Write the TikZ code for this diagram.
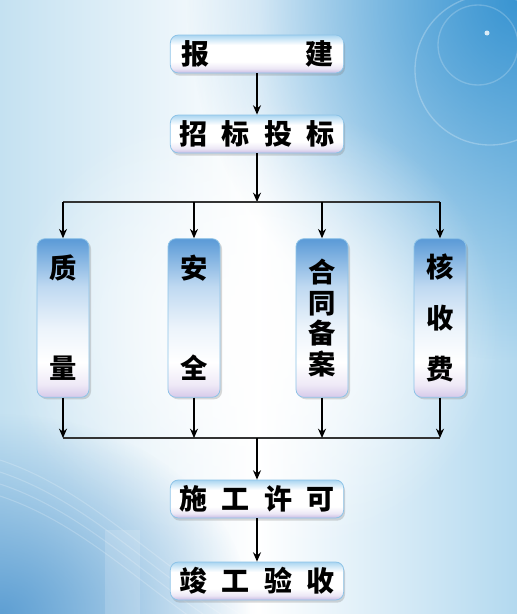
\documentclass[tikz,border=0pt]{standalone}
\usepackage{fontspec}
\newfontfamily\cjk{Noto Sans CJK SC}
\usetikzlibrary{arrows.meta, positioning, shadows, fadings}

\definecolor{bgleft}{HTML}{C4E1F1}
\definecolor{bgright}{HTML}{B3D9EF}
\definecolor{skyblue}{HTML}{3A95D2}
\definecolor{waveblue}{HTML}{5E9FD3}
\definecolor{rimblue}{HTML}{8DC3E7}
\definecolor{hbtop}{HTML}{A9D5F1}
\definecolor{hbbot}{HTML}{C9BBE3}
\definecolor{vbtop}{HTML}{5A9AD7}
\definecolor{vbmid}{HTML}{BFD9F1}
\definecolor{vbbot}{HTML}{D6C9EA}
\definecolor{busgray}{HTML}{333333}

\tikzfading[name=glow, inner color=transparent!0, outer color=transparent!100]

% box fills, path spans 25bp..75bp
\pgfdeclareverticalshading{stageshade}{100bp}{color(0bp)=(hbbot); color(25bp)=(hbbot); color(31bp)=(hbbot!35!white); color(40bp)=(white); color(62bp)=(white); color(70bp)=(hbtop!60!white); color(75bp)=(hbtop); color(100bp)=(hbtop)}
\pgfdeclareverticalshading{itemshade}{100bp}{color(0bp)=(vbbot); color(25bp)=(vbbot); color(29bp)=(vbbot!40!white); color(36bp)=(white); color(47bp)=(white!70!vbmid); color(60bp)=(vbmid); color(75bp)=(vbtop); color(100bp)=(vbtop)}

\begin{document}
\begin{tikzpicture}[x=0.75pt, y=-0.75pt,
    stagebox/.style={rectangle, draw=rimblue, line width=0.6pt, rounded corners=6pt, shading=stageshade, minimum width=130pt, minimum height=28.5pt, inner sep=0pt, font=\cjk\bfseries\fontsize{21}{24}\selectfont, drop shadow={shadow xshift=1pt, shadow yshift=-2pt, opacity=0.3}},
    itembox/.style={rectangle, draw=rimblue, line width=0.6pt, rounded corners=6pt, shading=itemshade, minimum width=39pt, minimum height=119pt, inner sep=0pt, align=center, font=\cjk\bfseries\fontsize{20.5}{23}\selectfont, drop shadow={shadow xshift=1.5pt, shadow yshift=-1.5pt, opacity=0.3}},
    arrow/.style={-{Stealth[length=7pt, width=6pt]}, line width=1.1pt, draw=black},
    bus/.style={line width=1.6pt, draw=busgray}
]
\useasboundingbox (0,0) rectangle (517,614);

% Background
\shade[left color=bgleft, right color=bgright, middle color=white] (0,0) rectangle (517,614);
\fill[skyblue, path fading=glow] (517,0) ellipse (330 and 360);
\fill[white, path fading=glow] (250,330) ellipse (250 and 230);
\fill[waveblue, path fading=glow] (0,614) ellipse (250 and 200);
\foreach \k in {0,12,24,36}
  \draw[white, opacity=0.2, line width=0.8pt] (0,460+\k) .. controls (90,490+\k) and (150,560+\k) .. (240,614+\k);
\fill[white, opacity=0.15] (105,530) rectangle (140,614);
\draw[white, opacity=0.25, line width=1pt] (490,70) circle (75);
\draw[white, opacity=0.2, line width=1pt] (478,45) circle (40);
\fill[white, opacity=0.8] (487,33) circle (2.5);

% Main steps
\node[stagebox] (baojian) at (257,54) {\makebox[114pt][s]{报\hfill 建}};
\node[stagebox] (zhaobiao) at (257,134) {\makebox[116pt][s]{招\hfill 标\hfill 投\hfill 标}};
\node[stagebox] (shigong) at (257,499) {\makebox[116pt][s]{施\hfill 工\hfill 许\hfill 可}};
\node[stagebox] (jungong) at (257,581) {\makebox[116pt][s]{竣\hfill 工\hfill 验\hfill 收}};

% Checks
\node[itembox] (zhiliang) at (63,318) {质\\[52pt]量};
\node[itembox] (anquan) at (194,318) {安\\[52pt]全};
\node[itembox] (hetong) at (322,318) {合\\[0pt]同\\[0pt]备\\[0pt]案};
\node[itembox] (heshou) at (440,318) {核\\[15pt]收\\[15pt]费};

\coordinate (fork) at (257,202);
\coordinate (join) at (257,438);

% Connections
\draw[arrow] (baojian.south) -- (zhaobiao.north);
\draw[arrow] (zhaobiao.south) -- (fork);
\draw[bus] (zhiliang.north |- fork) -- (heshou.north |- fork);
\draw[bus] (zhiliang.south |- join) -- (heshou.south |- join);
\foreach \c in {zhiliang, anquan, hetong, heshou} {
  \draw[arrow] (\c.north |- fork) -- (\c.north);
  \draw[arrow] (\c.south) -- (\c.south |- join);
}
\draw[arrow] (join) -- (shigong.north);
\draw[arrow] (shigong.south) -- (jungong.north);

\end{tikzpicture}
\end{document}
